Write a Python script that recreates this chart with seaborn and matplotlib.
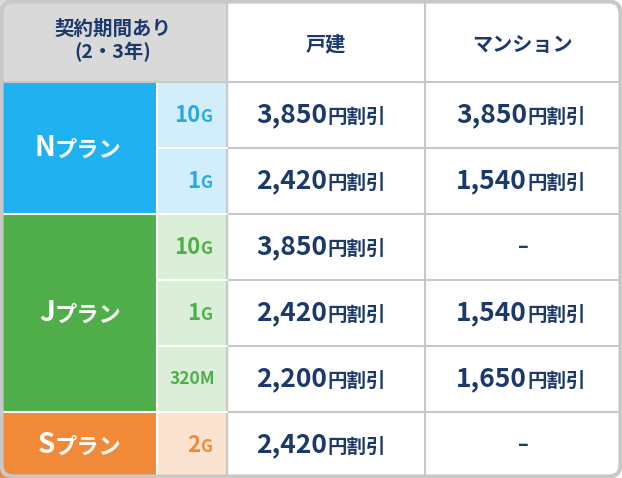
import matplotlib
matplotlib.use("Agg")
import matplotlib.pyplot as plt
import seaborn as sns
from matplotlib.patches import Rectangle, FancyBboxPatch

sns.set_theme(style="white")
FONT = "Noto Sans CJK JP"

header = ["契約期間あり\n(2・3年)", "戸建", "マンション"]
plans = ["N", "J", "S"]
plan_rows = [2, 3, 1]
speeds = [("10", "G"), ("1", "G"), ("10", "G"), ("1", "G"), ("320M", ""), ("2", "G")]
detached = ["3,850", "2,420", "3,850", "2,420", "2,200", "2,420"]
mansion = ["3,850", "1,540", None, "1,540", "1,650", None]

plan_dark = {"N": "#1fb1f0", "J": "#4fae4a", "S": "#f08a38"}
plan_light = {"N": "#d3eefb", "J": "#dbefd8", "S": "#fce3cf"}
plan_text = {"N": "#2aa8e6", "J": "#4fae4a", "S": "#f08a38"}
navy = "#1b3a6b"
gridc = "#c8c8c8"

fig = plt.figure(figsize=(6.22, 4.78), dpi=100)
ax = fig.add_axes([0, 0, 1, 1])
ax.set_xlim(0, 622); ax.set_ylim(478, 0); ax.axis("off")

xs = [0, 157, 227, 425, 620]
hy = 82
rh = 66

ax.add_patch(Rectangle((0, 0), 227, hy, color="#d9d9d9", zorder=1))
ax.text(113, 41, header[0], ha="center", va="center", fontsize=14, fontweight="bold",
        color=navy, family=FONT, linespacing=1.15, zorder=5)
ax.text(326, 44, header[1], ha="center", va="center", fontsize=14.5, fontweight="bold", color=navy, family=FONT, zorder=5)
ax.text(523, 44, header[2], ha="center", va="center", fontsize=14.5, fontweight="bold", color=navy, family=FONT, zorder=5)

row = 0
for p, n in zip(plans, plan_rows):
    y0 = hy + row * rh
    ax.add_patch(Rectangle((0, y0), 157, n * rh, color=plan_dark[p], zorder=1))
    cy = y0 + n * rh / 2
    ax.text(55, cy, p, ha="right", va="center", fontsize=20, fontweight="bold",
            color="white", family=FONT, zorder=5)
    ax.text(55, cy + 2, "プラン", ha="left", va="center", fontsize=16, fontweight="bold",
            color="white", family=FONT, zorder=5)
    for k in range(n):
        ry = y0 + k * rh
        ax.add_patch(Rectangle((157, ry), 70, rh, color=plan_light[p], zorder=1))
        big, small = speeds[row + k]
        c = ry + rh / 2
        if small:
            ax.text(200, c, big, ha="right", va="center", fontsize=16, fontweight="bold", color=plan_text[p], family=FONT, zorder=5)
            ax.text(200, c + 1.5, small, ha="left", va="center", fontsize=12, fontweight="bold", color=plan_text[p], family=FONT, zorder=5)
        else:
            ax.text(192, c, big, ha="center", va="center", fontsize=12.5, fontweight="bold", color=plan_text[p], family=FONT, zorder=5)
        for val, xe in ((detached[row + k], 327), (mansion[row + k], 527)):
            if val is None:
                ax.text(xe - 4, c, "–", ha="center", va="center", fontsize=14, fontweight="bold", color=navy, family=FONT, zorder=5)
            else:
                ax.text(xe, c, val, ha="right", va="center", fontsize=19, fontweight="bold", color=navy, family=FONT, zorder=5)
                ax.text(xe, c + 2, "円割引", ha="left", va="center", fontsize=14, fontweight="bold", color=navy, family=FONT, zorder=5)
    row += n

for x in xs[2:4]:
    ax.plot([x, x], [0, 478], color=gridc, lw=1.5, zorder=3)
ax.plot([157, 157], [hy, 478], color="white", lw=1.5, zorder=3)
ax.plot([0, 622], [hy, hy], color=gridc, lw=1.5, zorder=3)
for i in range(1, 6):
    y = hy + i * rh
    ax.plot([227, 622], [y, y], color=gridc, lw=1.5, zorder=3)
    ax.plot([157, 227], [y, y], color="white", lw=1.5, zorder=3)
for y in (hy + 2 * rh, hy + 5 * rh):
    ax.plot([0, 157], [y, y], color="white", lw=1.5, zorder=3)

ax.add_patch(FancyBboxPatch((1.5, 1.5), 619, 475, boxstyle="round,pad=0,rounding_size=12",
                            fill=False, ec=gridc, lw=3, zorder=6))

fig.savefig("out.png", dpi=100)
